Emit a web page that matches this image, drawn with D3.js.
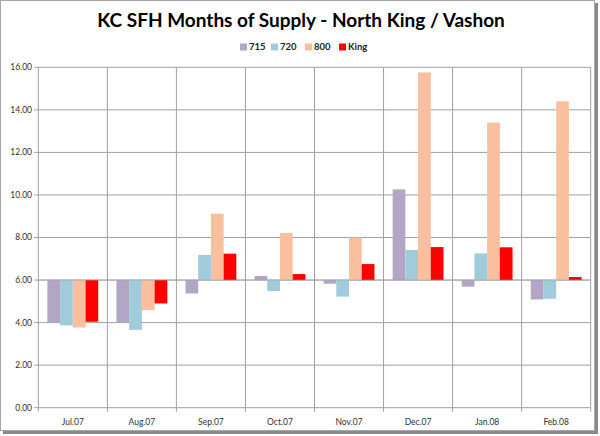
<!DOCTYPE html>
<html>
<head>
<meta charset="utf-8">
<script src="https://cdn.jsdelivr.net/npm/d3@7/dist/d3.min.js"></script>
<style>
  html, body { margin: 0; padding: 0; background: #fff; }
  text { font-family: Lato, "Open Sans", sans-serif; }
</style>
</head>
<body>
<div id="chart"></div>
<script>
const months = ['Jul.07', 'Aug.07', 'Sep.07', 'Oct.07', 'Nov.07', 'Dec.07', 'Jan.08', 'Feb.08'];
const seriesNames = ['715', '720', '800', 'King'];
const s715 = [3.98, 4.03, 5.37, 6.19, 5.83, 10.26, 5.69, 5.09];
const s720 = [3.87, 3.66, 7.18, 5.48, 5.22, 7.41, 7.25, 5.12];
const s800 = [3.77, 4.59, 9.12, 8.22, 8.00, 15.76, 13.40, 14.40];
const sKing = [4.04, 4.90, 7.24, 6.28, 6.75, 7.55, 7.54, 6.14];
const yTicks = [0, 2, 4, 6, 8, 10, 12, 14, 16];
const baseline = 6; // Excel-Achse kreuzt bei 6

const colors = ['#b2a5c6', '#9fcbdb', '#f9bf9e', '#ff0000'];
const allSeries = [s715, s720, s800, sKing];

const W = 600, H = 436;
const svg = d3.select('#chart').append('svg')
  .attr('width', W).attr('height', H);

// Rahmen mit Schatten
svg.append('rect').attr('x', 3).attr('y', 3).attr('width', 595).attr('height', 431)
  .attr('fill', '#8a8a8a');
svg.append('rect').attr('x', 0.5).attr('y', 0.5).attr('width', 594).attr('height', 430)
  .attr('fill', '#fff').attr('stroke', '#a6a6a6');

const pLeft = 38.3, pRight = 590.7, pTop = 67.3, pBottom = 407.7;

const x0 = d3.scaleBand().domain(months).range([pLeft, pRight]).padding(0);
const x1 = d3.scaleBand().domain(seriesNames)
  .range([9.1, x0.bandwidth() - 9.1]).padding(0);
const y = d3.scaleLinear().domain([0, 16]).range([pBottom, pTop]);

// Gitter
const grid = svg.append('g');
grid.selectAll('.h').data(yTicks).join('line')
  .attr('x1', pLeft - 4).attr('x2', pRight)
  .attr('y1', d => y(d)).attr('y2', d => y(d))
  .attr('stroke', '#a0a0a0').attr('stroke-width', 1);
grid.selectAll('.v').data(months.concat(['end'])).join('line')
  .attr('x1', (d, i) => pLeft + i * x0.bandwidth())
  .attr('x2', (d, i) => pLeft + i * x0.bandwidth())
  .attr('y1', pTop).attr('y2', pBottom + 4)
  .attr('stroke', '#a0a0a0').attr('stroke-width', 1);

// Balken
const groups = svg.append('g').selectAll('g').data(months).join('g')
  .attr('transform', d => `translate(${x0(d)},0)`);
groups.selectAll('rect')
  .data((m, i) => seriesNames.map((s, k) => ({ s, v: allSeries[k][i], c: colors[k] })))
  .join('rect')
  .attr('x', d => x1(d.s))
  .attr('width', x1.bandwidth())
  .attr('y', d => y(Math.max(d.v, baseline)))
  .attr('height', d => Math.abs(y(d.v) - y(baseline)))
  .attr('fill', d => d.c);

// Baseline-Linie über den Balken
svg.append('line')
  .attr('x1', pLeft).attr('x2', pRight)
  .attr('y1', y(baseline)).attr('y2', y(baseline))
  .attr('stroke', '#a0a0a0').attr('stroke-opacity', 0.6);

// Achsenbeschriftungen
svg.append('g').selectAll('text').data(yTicks).join('text')
  .attr('x', 32).attr('y', d => y(d)).attr('dy', '0.35em')
  .attr('text-anchor', 'end').attr('font-size', 8.5).attr('fill', '#333')
  .text(d => d.toFixed(2));
svg.append('g').selectAll('text').data(months).join('text')
  .attr('x', d => x0(d) + x0.bandwidth() / 2).attr('y', 422).attr('dy', '0.35em')
  .attr('text-anchor', 'middle').attr('font-size', 8.5).attr('fill', '#333')
  .text(d => d);

// Titel
svg.append('text').attr('x', 301).attr('y', 27)
  .attr('text-anchor', 'middle').attr('font-size', 19).attr('font-weight', 'bold')
  .attr('fill', '#000')
  .text('KC SFH Months of Supply - North King / Vashon');

// Legende
const legX = [240, 271, 305, 339];
const leg = svg.append('g').selectAll('g').data(seriesNames).join('g')
  .attr('transform', (d, i) => `translate(${legX[i]},47)`);
leg.append('rect').attr('x', 0).attr('y', -3.5).attr('width', 7).attr('height', 7)
  .attr('fill', (d, i) => colors[i]);
leg.append('text').attr('x', 9).attr('y', 0).attr('dy', '0.35em')
  .attr('font-size', 9.5).attr('font-weight', 'bold').attr('fill', '#222')
  .text(d => d);
</script>
</body>
</html>
